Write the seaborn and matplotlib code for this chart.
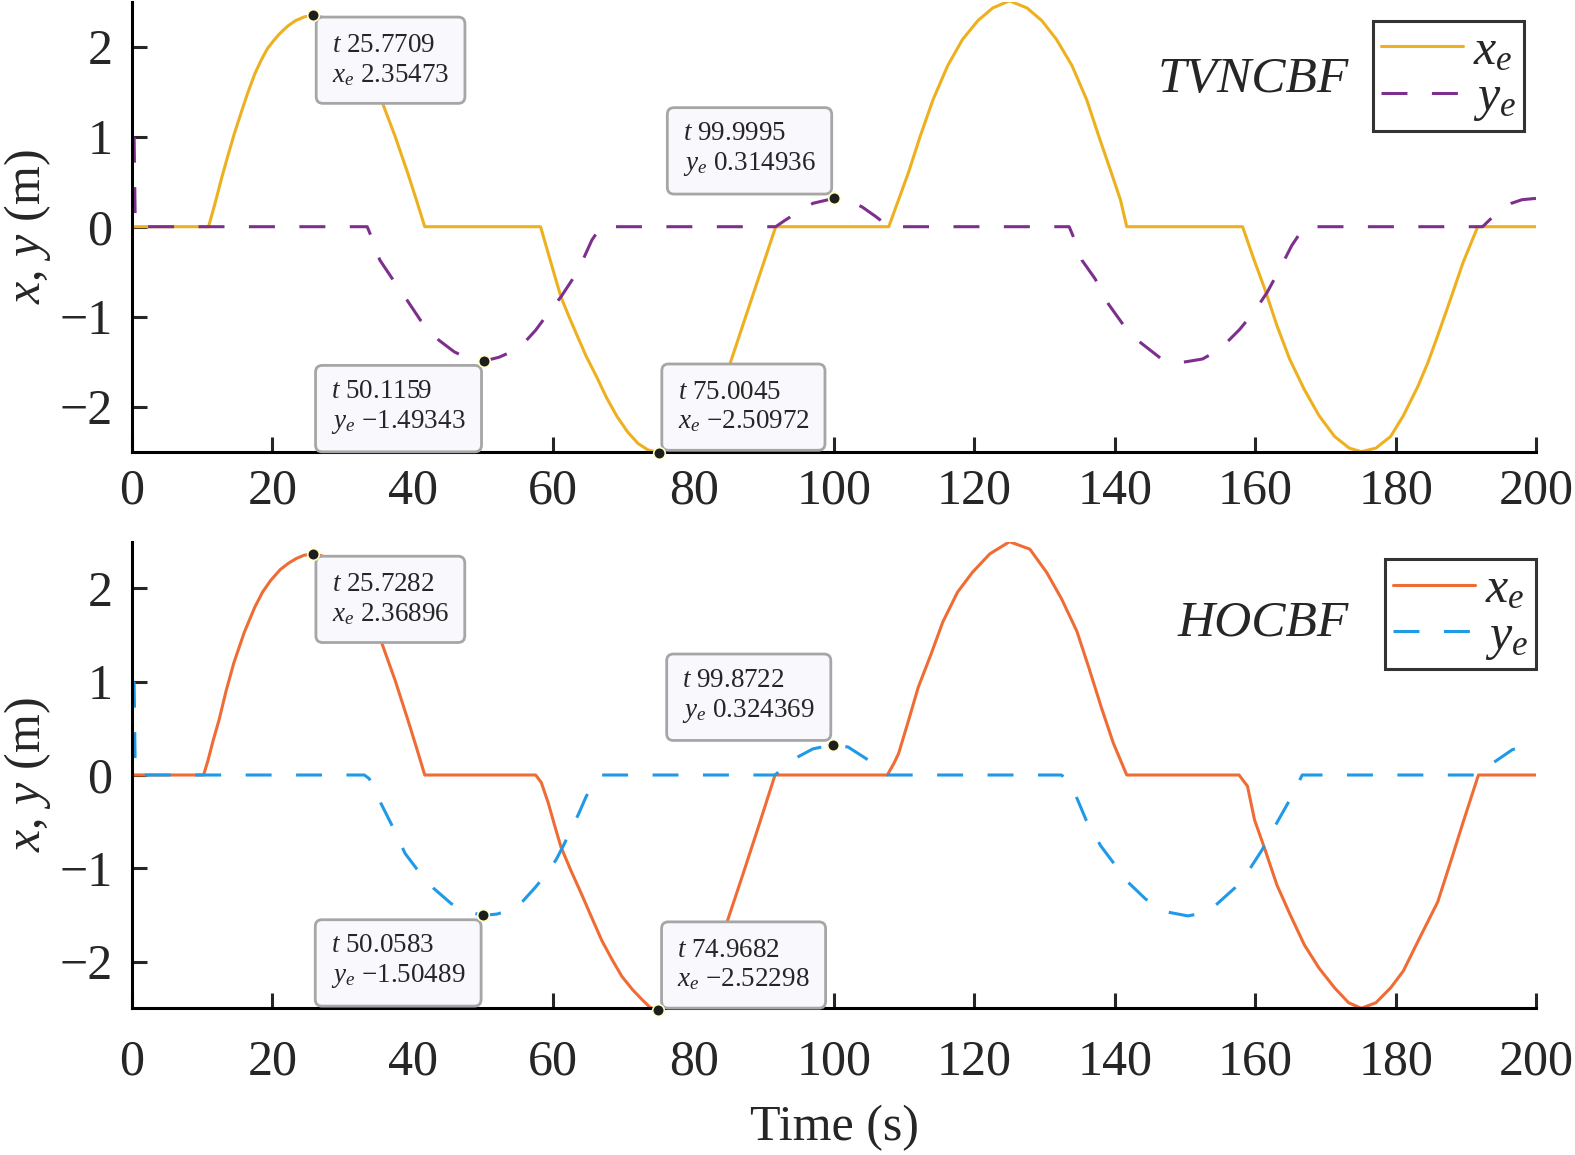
import matplotlib
matplotlib.use("Agg")
import matplotlib.pyplot as plt
import seaborn as sns

# ---------------- data ----------------
# TVNCBF panel
t_top_x = [0, 10.9, 11.8, 12.8, 13.7, 14.6, 15.6, 16.5, 17.5, 18.4, 19.3, 20.2, 21.1, 22.2,
           23.3, 24.5, 25.7709, 27, 28.5, 30, 31.5, 33, 34.4, 35.7, 37.5, 39.3, 40.5, 41.7,
           58.2, 59.6, 61.1, 62.2, 63.3, 64.7, 66.2, 67.6, 69.1, 70.6, 72.1, 73.5, 75.0045,
           76.5, 78, 79.3, 80.5, 81.8, 83, 85.2, 87.5, 89.6, 91.7,
           107.8, 109.2, 110.6, 112.3, 114.1, 116.2, 118.3, 120.5, 122.6, 125.0, 127.5,
           129.6, 131.7, 133.9, 136.0, 137.7, 139.5, 140.8, 141.7,
           158.2, 159.8, 161.4, 163.1, 164.9, 167.0, 169.1, 171.3, 173.4, 175.1, 177.2,
           179.3, 181.1, 183.2, 184.6, 186.0, 187.8, 189.6, 191.7, 200]
xe_top = [0, 0, 0.25, 0.55, 0.80, 1.04, 1.28, 1.49, 1.70, 1.85, 1.98, 2.07, 2.15, 2.23,
          2.29, 2.33, 2.35473, 2.33, 2.27, 2.17, 2.04, 1.87, 1.65, 1.37, 1.00, 0.59, 0.30, 0,
          0, -0.38, -0.78, -0.99, -1.19, -1.44, -1.67, -1.90, -2.11, -2.28, -2.41, -2.48,
          -2.50972, -2.48, -2.40, -2.29, -2.15, -2.00, -1.85, -1.52, -0.98, -0.49, 0,
          0, 0.30, 0.60, 1.01, 1.41, 1.79, 2.08, 2.29, 2.43, 2.51, 2.43,
          2.29, 2.08, 1.79, 1.41, 1.01, 0.60, 0.30, 0,
          0, -0.36, -0.70, -1.10, -1.47, -1.81, -2.10, -2.33, -2.46, -2.50, -2.46,
          -2.33, -2.10, -1.77, -1.51, -1.21, -0.81, -0.40, 0, 0]

t_top_y = [0.3, 0.45, 0.8, 33.5, 34.3, 35.3, 37.1, 39.3, 41.1, 43.7, 45.9, 48.0, 50.1159,
           52.3, 54.6, 56.1, 57.5, 59.3, 61.1, 62.2, 63.3, 64.4, 65.5, 66.8,
           91.7, 93, 95, 97, 99.9995, 102, 104, 106, 107.8,
           133.5, 134.3, 135.3, 137.2, 139.1, 141.3, 143.7, 146.5, 149.4, 152.5, 155,
           157.8, 159.9, 161.7, 163.5, 165.2, 167,
           192.4, 194.5, 196.5, 198, 200]
ye_top = [1.0, 0.1, 0, 0, -0.15, -0.37, -0.58, -0.83, -1.04, -1.26, -1.39, -1.47, -1.49343,
          -1.45, -1.37, -1.27, -1.15, -0.96, -0.78, -0.65, -0.52, -0.34, -0.15, 0,
          0, 0.07, 0.17, 0.26, 0.314936, 0.29, 0.22, 0.11, 0,
          0, -0.15, -0.37, -0.58, -0.86, -1.10, -1.29, -1.46, -1.51, -1.47, -1.36,
          -1.14, -0.94, -0.73, -0.47, -0.21, 0,
          0, 0.16, 0.26, 0.30, 0.315]

# HOCBF panel
t_bot_x = [0, 10.2, 10.8, 11.6, 12.4, 13.4, 14.5, 16.0, 17.5, 18.6, 19.7, 21.1, 22.3, 23.4,
           24.5, 25.7282, 27, 28.5, 30, 31.5, 33, 34.4, 35.6, 37.5, 39.3, 40.5, 41.7,
           57.5, 58.3, 59.3, 60.2, 61.1, 62.5, 64.0, 65.5, 66.9, 68.4, 69.8, 71.3, 72.7,
           73.8, 74.9682, 76.2, 77.5, 78.8, 80, 81.2, 82.5, 84.7, 87, 89.3, 91.6,
           107.6, 108.5, 109.2, 110.6, 112.0, 113.8, 115.5, 117.6, 119.7, 122.2, 125.0,
           127.9, 130.3, 132.4, 134.6, 136.3, 138.1, 139.8, 141.7,
           157.7, 158.9, 159.9, 161.4, 163.1, 165.0, 167.0, 169.1, 171.3, 173.3, 175.1,
           177.2, 179.3, 181.1, 183.2, 184.6, 186.0, 187.8, 189.6, 191.8, 200]
xe_bot = [0, 0, 0.15, 0.38, 0.59, 0.90, 1.20, 1.53, 1.80, 1.96, 2.08, 2.20, 2.27, 2.32,
          2.355, 2.36896, 2.35, 2.28, 2.19, 2.06, 1.88, 1.67, 1.41, 1.01, 0.59, 0.30, 0,
          0, -0.08, -0.30, -0.54, -0.77, -1.02, -1.27, -1.53, -1.77, -1.98, -2.16, -2.30,
          -2.41, -2.49, -2.52298, -2.49, -2.42, -2.32, -2.20, -2.05, -1.90, -1.59, -1.07,
          -0.54, 0,
          0, 0.12, 0.23, 0.58, 0.94, 1.29, 1.64, 1.96, 2.17, 2.37, 2.50,
          2.42, 2.17, 1.89, 1.54, 1.15, 0.72, 0.34, 0,
          0, -0.12, -0.48, -0.80, -1.18, -1.50, -1.82, -2.07, -2.28, -2.44, -2.50,
          -2.44, -2.28, -2.10, -1.78, -1.57, -1.36, -0.94, -0.51, 0, 0]

t_bot_y = [0.3, 0.45, 0.8, 33.1, 33.8, 35.3, 37.1, 38.9, 40.7, 42.9, 45.5, 47.5, 50.0583,
           52.0, 53.8, 55.7, 57.5, 59.0, 60.4, 61.5, 62.5, 63.6, 64.7, 65.8, 66.9,
           91.6, 93, 95, 97, 99.8722, 102, 104.9, 106.5, 107.6,
           132.4, 133.3, 134.5, 135.9, 138.0, 139.8, 141.9, 144.4, 147.6, 150.4, 152.5,
           154.3, 157.1, 159.2, 161.0, 163.1, 164.9, 166.7,
           191.3, 193.7, 196.6, 197.0]
ye_bot = [1.0, 0.1, 0, 0, -0.04, -0.28, -0.55, -0.84, -1.02, -1.21, -1.38, -1.46, -1.50489,
          -1.49, -1.45, -1.35, -1.20, -1.06, -0.91, -0.75, -0.59, -0.42, -0.23, -0.08, 0,
          0, 0.09, 0.20, 0.28, 0.324369, 0.30, 0.16, 0.07, 0,
          0, -0.06, -0.23, -0.48, -0.76, -0.94, -1.15, -1.33, -1.47, -1.51, -1.48,
          -1.40, -1.21, -1.01, -0.80, -0.51, -0.27, 0,
          0, 0.12, 0.27, 0.28]

# data tips: (t, value, variable)
tips_top = [(25.7709, 2.35473, "x"), (99.9995, 0.314936, "y"),
            (50.1159, -1.49343, "y"), (75.0045, -2.50972, "x")]
tips_bot = [(25.7282, 2.36896, "x"), (99.8722, 0.324369, "y"),
            (50.0583, -1.50489, "y"), (74.9682, -2.52298, "x")]
tip_text_top = ["25.7709", "2.35473", "99.9995", "0.314936",
                "50.1159", "\u22121.49343", "75.0045", "\u22122.50972"]
tip_text_bot = ["25.7282", "2.36896", "99.8722", "0.324369",
                "50.0583", "\u22121.50489", "74.9682", "\u22122.52298"]

x_ticks = list(range(0, 201, 20))
y_ticks = [-2, -1, 0, 1, 2]

# ---------------- style ----------------
sns.set_style("ticks")
plt.rcParams["font.family"] = ["Liberation Serif", "DejaVu Serif"]
plt.rcParams["mathtext.fontset"] = "custom"
plt.rcParams["mathtext.rm"] = "Liberation Serif"
plt.rcParams["mathtext.it"] = "Liberation Serif:italic"
plt.rcParams["mathtext.bf"] = "Liberation Serif:bold"
plt.rcParams["axes.unicode_minus"] = True

LW = 2.2
DASH = (8.5, 8)
# where each tip box sits relative to its point (pixels), and its alignment
tip_layout = [((19, -18), "left", "top"), ((-18, 20), "right", "bottom"),
              ((-18, -18), "right", "top"), ((19, 18), "left", "bottom")]


def draw_panel(ax, tx, xe, ty, ye, cx, cy, name, tips, tip_text, leg_anchor, name_pos,
               xpad):
    sns.lineplot(x=tx, y=xe, ax=ax, color=cx, lw=LW, estimator=None, sort=False,
                 label="$x_e$")
    sns.lineplot(x=ty, y=ye, ax=ax, color=cy, lw=LW, estimator=None, sort=False,
                 label="$y_e$")
    ax.lines[1].set_dashes(DASH)

    ax.set_xlim(0, 200)
    ax.set_ylim(-2.5, 2.5)
    ax.set_xticks(x_ticks)
    ax.set_yticks(y_ticks)
    ax.tick_params(direction="in", length=11, width=2.2, labelsize=36)
    ax.tick_params(axis="x", pad=xpad)
    ax.tick_params(axis="y", pad=14)
    sns.despine(ax=ax)
    for s in ("left", "bottom"):
        ax.spines[s].set_linewidth(2.2)
        ax.spines[s].set_color("black")
    ax.set_ylabel("$x$, $y$ (m)", fontsize=36)
    ax.yaxis.set_label_coords(-0.056, 0.5)

    handles, labels = ax.get_legend_handles_labels()
    leg = ax.legend(handles, labels, loc="upper right", bbox_to_anchor=leg_anchor,
                    fontsize=36, frameon=True, fancybox=False, handlelength=1.65,
                    handletextpad=0.2, labelspacing=0.0, borderpad=0.15,
                    borderaxespad=0.0)
    leg.get_frame().set_edgecolor("black")
    leg.get_frame().set_linewidth(2.2)

    ax.text(name_pos[0], name_pos[1], name, transform=ax.transAxes, fontsize=37,
            style="italic", ha="right", va="center")

    for i, (t, v, var) in enumerate(tips):
        off, ha, va = tip_layout[i]
        label = "$t$ " + tip_text[2 * i] + "\n$" + var + "_e$ " + tip_text[2 * i + 1]
        ax.annotate(label, xy=(t, v), xytext=off, textcoords="offset pixels",
                    ha=ha, va=va, multialignment="left", fontsize=19.5,
                    linespacing=1.2, zorder=5, annotation_clip=False,
                    bbox=dict(boxstyle="round,pad=0.58,rounding_size=0.25",
                              fc="#F8F8FD", ec="#A6A6A6", lw=2.0))
    sns.scatterplot(x=[p[0] for p in tips], y=[p[1] for p in tips], ax=ax, s=70,
                    color="#1E1E1E", edgecolor="#FFFFC8", linewidth=1.2, zorder=6,
                    clip_on=False, legend=False)


fig = plt.figure(figsize=(15.75, 11.55), dpi=100)
ax1 = fig.add_axes([132 / 1575, 1 - 451.7 / 1155, 1404 / 1575, 450 / 1155])
ax2 = fig.add_axes([132 / 1575, 1 - 1008.3 / 1155, 1404 / 1575, 466.6 / 1155])

draw_panel(ax1, t_top_x, xe_top, t_top_y, ye_top, "#EDB120", "#7E2F8E", "TVNCBF",
           tips_top, tip_text_top, (0.9915, 0.958), (0.867, 0.826), 12)
draw_panel(ax2, t_bot_x, xe_bot, t_bot_y, ye_bot, "#EF6C35", "#1F9AE8", "HOCBF",
           tips_bot, tip_text_bot, (1.0, 0.962), (0.867, 0.825), 22)

ax2.set_xlabel("Time (s)", fontsize=36, labelpad=14)

fig.savefig("out.png", dpi=100)
